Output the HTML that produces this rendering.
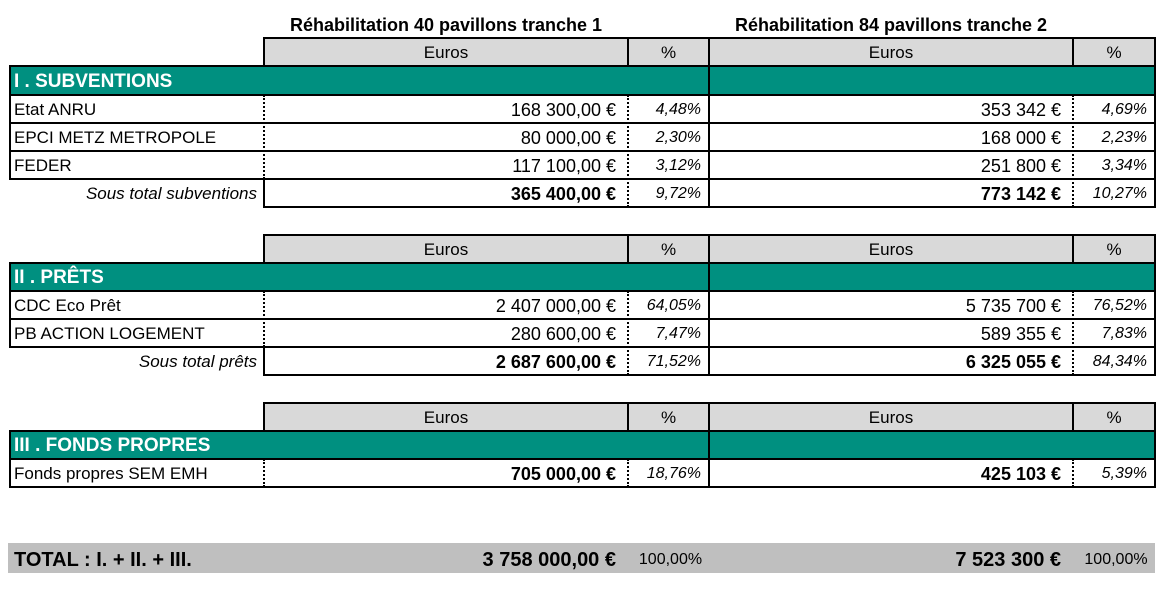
<!DOCTYPE html>
<html><head><meta charset="utf-8">
<style>
body{margin:0;width:1171px;height:589px;background:#fff;position:relative;overflow:hidden;font-family:"Liberation Sans",sans-serif;color:#000}
div{position:absolute;box-sizing:border-box}
.g{background:#d9d9d9}.t{background:#009080}
.h{height:2px;background:#000}
.v{width:2px;background:#000}
.d{width:2px;border-left:2px dotted #000}
.tx{height:28px;line-height:30px;font-size:17px;white-space:nowrap}
.r{text-align:right}.c{text-align:center}
.b{font-weight:bold}.i{font-style:italic}
.sec{color:#fff;font-weight:bold;font-size:19px;padding-left:4px}
.p{font-style:italic;font-size:16px}
.val{font-size:18px}
</style></head><body>
<div class="tx b c" style="left:264px;width:364px;top:10px;font-size:18px">Réhabilitation 40 pavillons tranche 1</div>
<div class="tx b c" style="left:709px;width:364px;top:10px;font-size:18px">Réhabilitation 84 pavillons tranche 2</div>

<!-- Block 1 -->
<div class="g" style="left:264px;top:38px;width:891px;height:28px"></div>
<div class="t" style="left:10px;top:66px;width:1145px;height:29px"></div>
<div class="h" style="left:263px;top:37px;width:893px"></div>
<div class="h" style="left:9px;top:65px;width:1147px"></div>
<div class="h" style="left:9px;top:94px;width:1147px"></div>
<div class="h" style="left:9px;top:122px;width:1147px"></div>
<div class="h" style="left:9px;top:150px;width:1147px"></div>
<div class="h" style="left:9px;top:178px;width:1147px"></div>
<div class="h" style="left:263px;top:206px;width:893px"></div>
<div class="v" style="left:9px;top:65px;height:115px"></div>
<div class="v" style="left:263px;top:37px;height:29px"></div>
<div class="d" style="left:263px;top:95px;height:84px"></div>
<div class="v" style="left:263px;top:178px;height:30px"></div>
<div class="v" style="left:627px;top:37px;height:29px"></div>
<div class="d" style="left:627px;top:95px;height:112px"></div>
<div class="v" style="left:708px;top:37px;height:171px"></div>
<div class="v" style="left:1072px;top:37px;height:29px"></div>
<div class="d" style="left:1072px;top:95px;height:112px"></div>
<div class="v" style="left:1154px;top:37px;height:171px"></div>

<div class="tx c" style="left:264px;width:364px;top:38px">Euros</div>
<div class="tx c" style="left:628px;width:81px;top:38px">%</div>
<div class="tx c" style="left:709px;width:364px;top:38px">Euros</div>
<div class="tx c" style="left:1073px;width:82px;top:38px">%</div>
<div class="tx sec" style="left:10px;top:67px">I . SUBVENTIONS</div>

<div class="tx" style="left:14px;top:95px">Etat ANRU</div>
<div class="tx r val" style="left:264px;width:352px;top:95px">168 300,00 €</div>
<div class="tx r p" style="left:628px;width:73px;top:95px">4,48%</div>
<div class="tx r val" style="left:709px;width:352px;top:95px">353 342 €</div>
<div class="tx r p" style="left:1073px;width:74px;top:95px">4,69%</div>

<div class="tx" style="left:14px;top:123px">EPCI METZ METROPOLE</div>
<div class="tx r val" style="left:264px;width:352px;top:123px">80 000,00 €</div>
<div class="tx r p" style="left:628px;width:73px;top:123px">2,30%</div>
<div class="tx r val" style="left:709px;width:352px;top:123px">168 000 €</div>
<div class="tx r p" style="left:1073px;width:74px;top:123px">2,23%</div>

<div class="tx" style="left:14px;top:151px">FEDER</div>
<div class="tx r val" style="left:264px;width:352px;top:151px">117 100,00 €</div>
<div class="tx r p" style="left:628px;width:73px;top:151px">3,12%</div>
<div class="tx r val" style="left:709px;width:352px;top:151px">251 800 €</div>
<div class="tx r p" style="left:1073px;width:74px;top:151px">3,34%</div>

<div class="tx r i" style="left:10px;width:247px;top:179px">Sous total subventions</div>
<div class="tx r b val" style="left:264px;width:352px;top:179px">365 400,00 €</div>
<div class="tx r p" style="left:628px;width:73px;top:179px">9,72%</div>
<div class="tx r b val" style="left:709px;width:352px;top:179px">773 142 €</div>
<div class="tx r p" style="left:1073px;width:74px;top:179px">10,27%</div>

<!-- Block 2 -->
<div class="g" style="left:264px;top:235px;width:891px;height:28px"></div>
<div class="t" style="left:10px;top:263px;width:1145px;height:28px"></div>
<div class="h" style="left:263px;top:234px;width:893px"></div>
<div class="h" style="left:9px;top:262px;width:1147px"></div>
<div class="h" style="left:9px;top:290px;width:1147px"></div>
<div class="h" style="left:9px;top:318px;width:1147px"></div>
<div class="h" style="left:9px;top:346px;width:1147px"></div>
<div class="h" style="left:263px;top:374px;width:893px"></div>
<div class="v" style="left:9px;top:262px;height:86px"></div>
<div class="v" style="left:263px;top:234px;height:29px"></div>
<div class="d" style="left:263px;top:291px;height:56px"></div>
<div class="v" style="left:263px;top:346px;height:30px"></div>
<div class="v" style="left:627px;top:234px;height:29px"></div>
<div class="d" style="left:627px;top:291px;height:84px"></div>
<div class="v" style="left:708px;top:234px;height:142px"></div>
<div class="v" style="left:1072px;top:234px;height:29px"></div>
<div class="d" style="left:1072px;top:291px;height:84px"></div>
<div class="v" style="left:1154px;top:234px;height:142px"></div>

<div class="tx c" style="left:264px;width:364px;top:235px">Euros</div>
<div class="tx c" style="left:628px;width:81px;top:235px">%</div>
<div class="tx c" style="left:709px;width:364px;top:235px">Euros</div>
<div class="tx c" style="left:1073px;width:82px;top:235px">%</div>
<div class="tx sec" style="left:10px;top:263px">II . PRÊTS</div>

<div class="tx" style="left:14px;top:291px">CDC Eco Prêt</div>
<div class="tx r val" style="left:264px;width:352px;top:291px">2 407 000,00 €</div>
<div class="tx r p" style="left:628px;width:73px;top:291px">64,05%</div>
<div class="tx r val" style="left:709px;width:352px;top:291px">5 735 700 €</div>
<div class="tx r p" style="left:1073px;width:74px;top:291px">76,52%</div>

<div class="tx" style="left:14px;top:319px">PB ACTION LOGEMENT</div>
<div class="tx r val" style="left:264px;width:352px;top:319px">280 600,00 €</div>
<div class="tx r p" style="left:628px;width:73px;top:319px">7,47%</div>
<div class="tx r val" style="left:709px;width:352px;top:319px">589 355 €</div>
<div class="tx r p" style="left:1073px;width:74px;top:319px">7,83%</div>

<div class="tx r i" style="left:10px;width:247px;top:347px">Sous total prêts</div>
<div class="tx r b val" style="left:264px;width:352px;top:347px">2 687 600,00 €</div>
<div class="tx r p" style="left:628px;width:73px;top:347px">71,52%</div>
<div class="tx r b val" style="left:709px;width:352px;top:347px">6 325 055 €</div>
<div class="tx r p" style="left:1073px;width:74px;top:347px">84,34%</div>

<!-- Block 3 -->
<div class="g" style="left:264px;top:403px;width:891px;height:28px"></div>
<div class="t" style="left:10px;top:431px;width:1145px;height:28px"></div>
<div class="h" style="left:263px;top:402px;width:893px"></div>
<div class="h" style="left:9px;top:430px;width:1147px"></div>
<div class="h" style="left:9px;top:458px;width:1147px"></div>
<div class="h" style="left:9px;top:486px;width:1147px"></div>
<div class="v" style="left:9px;top:430px;height:58px"></div>
<div class="v" style="left:263px;top:402px;height:29px"></div>
<div class="d" style="left:263px;top:459px;height:28px"></div>
<div class="v" style="left:627px;top:402px;height:29px"></div>
<div class="d" style="left:627px;top:459px;height:28px"></div>
<div class="v" style="left:708px;top:402px;height:86px"></div>
<div class="v" style="left:1072px;top:402px;height:29px"></div>
<div class="d" style="left:1072px;top:459px;height:28px"></div>
<div class="v" style="left:1154px;top:402px;height:86px"></div>

<div class="tx c" style="left:264px;width:364px;top:403px">Euros</div>
<div class="tx c" style="left:628px;width:81px;top:403px">%</div>
<div class="tx c" style="left:709px;width:364px;top:403px">Euros</div>
<div class="tx c" style="left:1073px;width:82px;top:403px">%</div>
<div class="tx sec" style="left:10px;top:431px">III . FONDS PROPRES</div>

<div class="tx" style="left:14px;top:459px">Fonds propres SEM EMH</div>
<div class="tx r b val" style="left:264px;width:352px;top:459px">705 000,00 €</div>
<div class="tx r p" style="left:628px;width:73px;top:459px">18,76%</div>
<div class="tx r b val" style="left:709px;width:352px;top:459px">425 103 €</div>
<div class="tx r p" style="left:1073px;width:74px;top:459px">5,39%</div>

<!-- Total -->
<div style="left:8px;top:543px;width:1147px;height:30px;background:#bfbfbf"></div>
<div class="tx b" style="left:14px;top:545px;font-size:20px">TOTAL : I. + II. + III.</div>
<div class="tx r b" style="left:264px;width:352px;top:545px;font-size:20px">3 758 000,00 €</div>
<div class="tx c" style="left:630px;width:81px;top:545px;font-size:16px">100,00%</div>
<div class="tx r b" style="left:709px;width:352px;top:545px;font-size:20px">7 523 300 €</div>
<div class="tx c" style="left:1075px;width:82px;top:545px;font-size:16px">100,00%</div>
</body></html>
